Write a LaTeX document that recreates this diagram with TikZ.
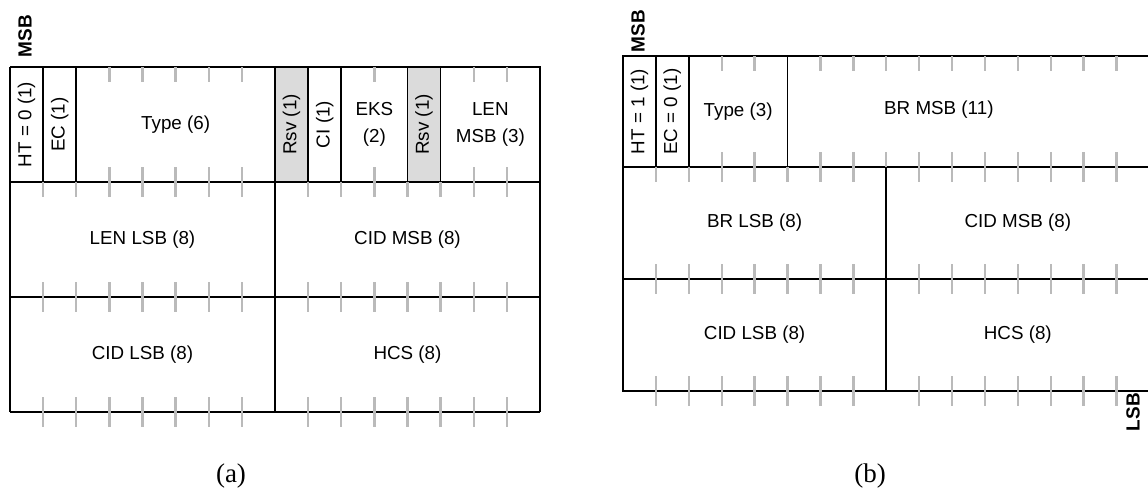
\documentclass[tikz,border=0pt]{standalone}
\usepackage{fontspec}
\setmainfont{Liberation Sans}
\newfontfamily\capfont{Liberation Serif}
\begin{document}
\begin{tikzpicture}[x=1pt,y=-1pt,
  frame/.style={draw=black,line width=1.7pt},
  thickframe/.style={draw=black,line width=2.7pt},
  tick/.style={draw=black!27,line width=2.4pt},
  lbl/.style={font=\fontsize{18.8}{27}\selectfont,align=center,inner sep=0pt,text=black},
  vlbl/.style={lbl,rotate=90},
  endlbl/.style={font=\fontsize{19}{22}\selectfont\bfseries,inner sep=0pt,rotate=90},
  caplbl/.style={font=\capfont\fontsize{27}{30}\selectfont,inner sep=0pt},
  rsv/.style={fill=black!14}]
\clip (0,0) rectangle (1148,501);
\fill[white] (0,0) rectangle (1148,501);
% ---------------- panel (a)
\def\ax{10}\def\abw{33.125}
\def\ya{67}\def\yb{182}\def\yc{297}\def\yd{412}
\fill[rsv] ({\ax+8*\abw},\ya) rectangle ({\ax+9*\abw},\yb);
\fill[rsv] ({\ax+12*\abw},\ya) rectangle ({\ax+13*\abw},\yb);
\draw[frame] (\ax,\ya) -- ({\ax+16*\abw},\ya) -- ({\ax+16*\abw},\yd);
\draw[frame] (\ax,\ya) -- (\ax,\yd);
\draw[thickframe] (\ax,\yd) -- ({\ax+16*\abw},\yd);
\draw[frame] (\ax,\yb) -- ({\ax+16*\abw},\yb);
\draw[frame] (\ax,\yc) -- ({\ax+16*\abw},\yc);
\foreach \k in {1,2,8,9,10,12,13} \draw[frame] ({\ax+\k*\abw},\ya) -- ({\ax+\k*\abw},\yb);
\draw[frame] ({\ax+8*\abw},\yb) -- ({\ax+8*\abw},\yd);
% ticks
\foreach \k in {3,4,5,6,7,11,14,15} {
  \draw[tick] ({\ax+\k*\abw},\ya) -- ++(0,15);
  \draw[tick] ({\ax+\k*\abw},\yb) -- ++(0,-15);}
\foreach \k in {1,...,7,9,10,...,15} {
  \draw[tick] ({\ax+\k*\abw},\yb) -- ++(0,15);
  \draw[tick] ({\ax+\k*\abw},\yc) -- ++(0,-15);
  \draw[tick] ({\ax+\k*\abw},\yc) -- ++(0,15);
  \draw[tick] ({\ax+\k*\abw},\yd) -- ++(0,-15);
  \draw[tick] ({\ax+\k*\abw},\yd) -- ++(0,15);}
% labels
\node[vlbl] (aht) at ({\ax+0.5*\abw},124.5) {HT = 0 (1)};
\node[vlbl] (aec) at ({\ax+1.5*\abw},124.5) {EC (1)};
\node[lbl] (atype) at ({\ax+5*\abw},124.5) {Type (6)};
\node[vlbl] (arsv1) at ({\ax+8.5*\abw},124.5) {Rsv (1)};
\node[vlbl] (aci) at ({\ax+9.5*\abw},124.5) {CI (1)};
\node[lbl] (aeks) at ({\ax+11*\abw},124.5) {EKS\\(2)};
\node[vlbl] (arsv2) at ({\ax+12.5*\abw},124.5) {Rsv (1)};
\node[lbl] (alen) at ({\ax+14.5*\abw},124.5) {LEN\\MSB (3)};
\node[lbl] (alenlsb) at ({\ax+4*\abw},239.5) {LEN LSB (8)};
\node[lbl] (acidmsb) at ({\ax+12*\abw},239.5) {CID MSB (8)};
\node[lbl] (acidlsb) at ({\ax+4*\abw},354.5) {CID LSB (8)};
\node[lbl] (ahcs) at ({\ax+12*\abw},354.5) {HCS (8)};
\node[endlbl] (amsb) at (25,36) {MSB};
\node[caplbl] (acap) at (231,476) {(a)};
% ---------------- panel (b)
\def\bx{623}\def\bbw{32.9}
\def\ya{56}\def\yb{167}\def\yc{279}\def\yd{391}
\draw[frame] (\bx,\ya) -- ({\bx+16*\bbw},\ya) -- ({\bx+16*\bbw},\yd) -- (\bx,\yd) -- cycle;
\draw[frame] (\bx,\yb) -- ({\bx+16*\bbw},\yb);
\draw[thickframe] (\bx,\yc) -- ({\bx+16*\bbw},\yc);
\foreach \k in {1,2,5} \draw[frame] ({\bx+\k*\bbw},\ya) -- ({\bx+\k*\bbw},\yb);
\draw[frame] ({\bx+8*\bbw},\yb) -- ({\bx+8*\bbw},\yd);
\foreach \k in {3,4,6,7,...,15} {
  \draw[tick] ({\bx+\k*\bbw},\ya) -- ++(0,15);
  \draw[tick] ({\bx+\k*\bbw},\yb) -- ++(0,-15);}
\foreach \k in {1,...,7,9,10,...,15} {
  \draw[tick] ({\bx+\k*\bbw},\yb) -- ++(0,15);
  \draw[tick] ({\bx+\k*\bbw},\yc) -- ++(0,-15);
  \draw[tick] ({\bx+\k*\bbw},\yc) -- ++(0,15);
  \draw[tick] ({\bx+\k*\bbw},\yd) -- ++(0,-15);
  \draw[tick] ({\bx+\k*\bbw},\yd) -- ++(0,15);}
\node[vlbl] (bht) at ({\bx+0.5*\bbw},111.5) {HT = 1 (1)};
\node[vlbl] (bec) at ({\bx+1.5*\bbw},111.5) {EC = 0 (1)};
\node[lbl] (btype) at ({\bx+3.5*\bbw},111.5) {Type (3)};
\node[lbl] (bbrmsb) at ({\bx+9.6*\bbw},110) {BR MSB (11)};
\node[lbl] (bbrlsb) at ({\bx+4*\bbw},223) {BR LSB (8)};
\node[lbl] (bcidmsb) at ({\bx+12*\bbw},223) {CID MSB (8)};
\node[lbl] (bcidlsb) at ({\bx+4*\bbw},335) {CID LSB (8)};
\node[lbl] (bhcs) at ({\bx+12*\bbw},335) {HCS (8)};
\node[endlbl] (bmsb) at (638,31) {MSB};
\node[endlbl] (blsb) at (1133,412) {LSB};
\node[caplbl] (bcap) at (870,476) {(b)};
\end{tikzpicture}
\end{document}
